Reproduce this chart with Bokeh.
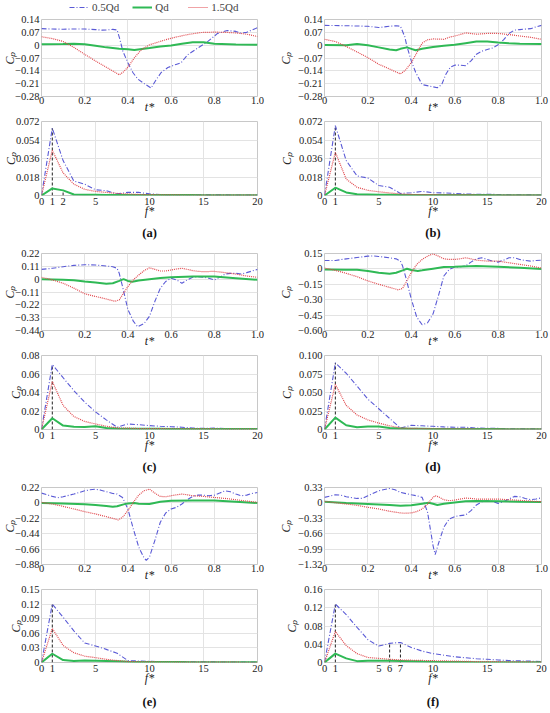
from bokeh.plotting import figure
from bokeh.models import Range1d, FixedTicker, Legend, LegendItem
from bokeh.layouts import gridplot, column
from bokeh.embed import file_html
from bokeh.resources import INLINE

# ---------------- data ----------------
SERIES = ["0.5Qd", "Qd", "1.5Qd"]
PANEL_LABELS = ["(a)", "(b)", "(c)", "(d)", "(e)", "(f)"]

# time-domain Cp (t* from 0 to 1)
TA_B = [0, 0.05, 0.1, 0.15, 0.2, 0.25, 0.28, 0.3, 0.33, 0.35, 0.361, 0.377, 0.4, 0.423, 0.446, 0.477, 0.507, 0.53, 0.554, 0.585, 0.623, 0.646, 0.677, 0.723, 0.769, 0.815, 0.86, 0.9, 0.92, 0.95, 1.0]
VA_B = [0.09, 0.088, 0.087, 0.088, 0.088, 0.085, 0.082, 0.083, 0.086, 0.083, 0.04, -0.034, -0.096, -0.149, -0.185, -0.211, -0.234, -0.19, -0.149, -0.122, -0.105, -0.096, -0.052, -0.016, 0.019, 0.064, 0.08, 0.075, 0.066, 0.07, 0.095]
TA_G = [0, 0.1, 0.15, 0.2, 0.25, 0.3, 0.36, 0.4, 0.43, 0.5, 0.55, 0.6, 0.65, 0.7, 0.75, 0.8, 0.9, 1.0]
VA_G = [0.005, 0.006, 0.008, 0.005, -0.003, -0.012, -0.02, -0.022, -0.026, -0.015, -0.007, -0.002, 0.008, 0.016, 0.016, 0.008, 0.003, 0.002]
TA_R = [0, 0.05, 0.1, 0.15, 0.2, 0.25, 0.3, 0.36, 0.38, 0.4, 0.43, 0.462, 0.5, 0.546, 0.585, 0.63, 0.677, 0.738, 0.8, 0.85, 0.9, 0.95, 1.0]
VA_R = [0.046, 0.036, 0.02, -0.012, -0.05, -0.086, -0.12, -0.162, -0.145, -0.12, -0.069, -0.025, 0.002, 0.019, 0.033, 0.046, 0.058, 0.069, 0.071, 0.07, 0.067, 0.06, 0.047]

TB_B = [0, 0.1, 0.2, 0.25, 0.3, 0.33, 0.35, 0.37, 0.38, 0.4, 0.42, 0.45, 0.5, 0.52, 0.54, 0.56, 0.58, 0.6, 0.625, 0.65, 0.675, 0.7, 0.725, 0.75, 0.775, 0.8, 0.825, 0.85, 0.875, 0.9, 0.95, 0.975, 1.0]
VB_B = [0.108, 0.106, 0.103, 0.096, 0.103, 0.106, 0.103, 0.046, -0.007, -0.086, -0.148, -0.215, -0.227, -0.232, -0.215, -0.157, -0.12, -0.109, -0.109, -0.112, -0.086, -0.05, -0.033, -0.024, -0.015, 0.002, 0.029, 0.064, 0.082, 0.085, 0.09, 0.1, 0.108]
TB_G = [0, 0.1, 0.15, 0.2, 0.25, 0.3, 0.33, 0.35, 0.38, 0.4, 0.42, 0.45, 0.5, 0.55, 0.6, 0.65, 0.7, 0.75, 0.8, 0.85, 0.9, 1.0]
VB_G = [0.001, 0.0, 0.006, -0.001, -0.012, -0.024, -0.028, -0.02, -0.012, -0.02, -0.028, -0.02, -0.01, -0.003, 0.002, 0.011, 0.02, 0.02, 0.015, 0.011, 0.008, 0.006]
TB_R = [0, 0.05, 0.1, 0.15, 0.2, 0.25, 0.3, 0.35, 0.375, 0.4, 0.425, 0.45, 0.475, 0.5, 0.55, 0.575, 0.6, 0.625, 0.65, 0.7, 0.75, 0.8, 0.85, 0.9, 0.95, 1.0]
VB_R = [0.032, 0.02, -0.007, -0.037, -0.068, -0.104, -0.13, -0.157, -0.134, -0.095, -0.042, 0.011, 0.029, 0.034, 0.032, 0.043, 0.05, 0.058, 0.067, 0.06, 0.064, 0.064, 0.058, 0.05, 0.043, 0.032]

TC_B = [0, 0.05, 0.1, 0.15, 0.2, 0.25, 0.3, 0.33, 0.35, 0.36, 0.375, 0.4, 0.425, 0.445, 0.475, 0.5, 0.525, 0.55, 0.575, 0.6, 0.625, 0.65, 0.675, 0.7, 0.725, 0.75, 0.775, 0.8, 0.825, 0.85, 0.875, 0.9, 0.925, 0.95, 0.975, 1.0]
VC_B = [0.084, 0.093, 0.107, 0.118, 0.124, 0.121, 0.113, 0.107, 0.093, 0.05, -0.063, -0.26, -0.36, -0.408, -0.38, -0.317, -0.19, -0.078, -0.02, 0.008, -0.006, -0.035, -0.006, 0.016, 0.022, 0.016, 0.008, -0.006, 0.016, 0.044, 0.05, 0.05, 0.044, 0.056, 0.07, 0.084]
TC_G = [0, 0.1, 0.15, 0.2, 0.25, 0.3, 0.33, 0.36, 0.38, 0.4, 0.42, 0.45, 0.5, 0.55, 0.6, 0.7, 0.8, 0.9, 1.0]
VC_G = [0.0, -0.006, -0.009, -0.02, -0.029, -0.04, -0.035, -0.015, 0.0, -0.015, -0.023, -0.012, 0.0, 0.01, 0.016, 0.022, 0.022, 0.008, -0.006]
TC_R = [0, 0.05, 0.1, 0.15, 0.2, 0.25, 0.3, 0.34, 0.36, 0.375, 0.4, 0.425, 0.45, 0.475, 0.5, 0.525, 0.55, 0.575, 0.6, 0.625, 0.65, 0.675, 0.7, 0.725, 0.75, 0.8, 0.85, 0.9, 0.95, 1.0]
VC_R = [0.016, -0.006, -0.035, -0.077, -0.125, -0.148, -0.17, -0.19, -0.177, -0.134, -0.063, -0.006, 0.036, 0.073, 0.098, 0.084, 0.07, 0.07, 0.079, 0.087, 0.093, 0.084, 0.073, 0.067, 0.064, 0.067, 0.056, 0.044, 0.027, 0.016]

TD_B = [0, 0.05, 0.1, 0.15, 0.2, 0.225, 0.25, 0.3, 0.33, 0.35, 0.36, 0.375, 0.4, 0.425, 0.45, 0.475, 0.5, 0.525, 0.55, 0.575, 0.6, 0.625, 0.65, 0.675, 0.7, 0.725, 0.75, 0.775, 0.8, 0.825, 0.85, 0.875, 0.9, 0.925, 0.95, 0.975, 1.0]
VD_B = [0.082, 0.082, 0.098, 0.111, 0.124, 0.127, 0.121, 0.108, 0.098, 0.076, 0.028, -0.085, -0.294, -0.47, -0.544, -0.525, -0.44, -0.262, -0.069, -0.005, 0.018, 0.021, 0.028, 0.066, 0.098, 0.108, 0.092, 0.076, 0.066, 0.085, 0.108, 0.108, 0.092, 0.082, 0.076, 0.082, 0.085]
TD_G = [0, 0.1, 0.15, 0.2, 0.25, 0.3, 0.33, 0.36, 0.38, 0.4, 0.43, 0.45, 0.5, 0.55, 0.6, 0.7, 0.8, 0.9, 1.0]
VD_G = [-0.005, -0.008, -0.008, -0.02, -0.037, -0.047, -0.037, -0.014, 0.002, -0.011, -0.02, -0.014, 0.002, 0.018, 0.021, 0.028, 0.021, 0.012, -0.001]
TD_R = [0, 0.05, 0.1, 0.15, 0.2, 0.25, 0.3, 0.34, 0.36, 0.375, 0.4, 0.425, 0.45, 0.475, 0.5, 0.525, 0.55, 0.575, 0.6, 0.625, 0.65, 0.675, 0.7, 0.75, 0.8, 0.85, 0.9, 0.95, 1.0]
VD_R = [0.008, -0.014, -0.043, -0.076, -0.117, -0.15, -0.18, -0.204, -0.19, -0.133, -0.037, 0.044, 0.092, 0.124, 0.147, 0.124, 0.098, 0.092, 0.092, 0.098, 0.108, 0.098, 0.085, 0.076, 0.076, 0.06, 0.044, 0.028, 0.008]

TE_B = [0, 0.05, 0.075, 0.1, 0.15, 0.2, 0.225, 0.25, 0.275, 0.3, 0.33, 0.35, 0.375, 0.4, 0.425, 0.45, 0.475, 0.485, 0.5, 0.525, 0.55, 0.575, 0.6, 0.625, 0.65, 0.675, 0.7, 0.725, 0.75, 0.775, 0.8, 0.825, 0.85, 0.875, 0.9, 0.925, 0.95, 0.975, 1.0]
VE_B = [0.14, 0.093, 0.074, 0.088, 0.126, 0.173, 0.187, 0.196, 0.182, 0.159, 0.135, 0.126, 0.078, -0.087, -0.37, -0.63, -0.787, -0.82, -0.772, -0.535, -0.276, -0.144, -0.087, -0.063, -0.016, 0.045, 0.093, 0.111, 0.111, 0.102, 0.111, 0.14, 0.173, 0.159, 0.126, 0.102, 0.111, 0.135, 0.149]
TE_G = [0, 0.1, 0.2, 0.25, 0.3, 0.33, 0.35, 0.38, 0.4, 0.43, 0.45, 0.5, 0.55, 0.6, 0.7, 0.8, 0.9, 1.0]
VE_G = [-0.002, -0.007, -0.021, -0.03, -0.044, -0.054, -0.049, -0.021, -0.007, -0.002, -0.011, -0.016, 0.017, 0.031, 0.036, 0.036, 0.017, -0.002]
TE_R = [0, 0.05, 0.1, 0.15, 0.2, 0.25, 0.3, 0.355, 0.375, 0.4, 0.425, 0.45, 0.475, 0.5, 0.525, 0.55, 0.575, 0.6, 0.625, 0.65, 0.675, 0.7, 0.75, 0.8, 0.85, 0.9, 0.95, 1.0]
VE_R = [0.008, -0.016, -0.049, -0.087, -0.125, -0.158, -0.196, -0.243, -0.205, -0.11, 0.008, 0.111, 0.173, 0.196, 0.14, 0.093, 0.088, 0.102, 0.116, 0.126, 0.116, 0.102, 0.093, 0.078, 0.064, 0.045, 0.026, 0.008]

TF_B = [0, 0.05, 0.075, 0.1, 0.15, 0.175, 0.2, 0.25, 0.3, 0.325, 0.35, 0.4, 0.425, 0.45, 0.475, 0.5, 0.51, 0.525, 0.55, 0.575, 0.6, 0.625, 0.65, 0.675, 0.7, 0.725, 0.75, 0.775, 0.8, 0.825, 0.85, 0.875, 0.9, 0.925, 0.95, 0.975, 1.0]
VF_B = [0.118, 0.174, 0.167, 0.132, 0.096, 0.096, 0.153, 0.26, 0.309, 0.28, 0.224, 0.174, 0.153, 0.118, -0.2, -0.91, -1.11, -0.875, -0.52, -0.343, -0.293, -0.272, -0.258, -0.166, -0.045, 0.025, 0.047, 0.033, -0.01, 0.025, 0.082, 0.139, 0.132, 0.096, 0.068, 0.082, 0.11]
TF_G = [0, 0.1, 0.2, 0.3, 0.35, 0.4, 0.45, 0.48, 0.5, 0.52, 0.55, 0.6, 0.65, 0.7, 0.8, 0.9, 1.0]
VF_G = [0.025, -0.003, -0.024, -0.045, -0.06, -0.052, -0.017, 0.004, -0.017, -0.045, -0.017, 0.011, 0.033, 0.04, 0.033, 0.025, 0.018]
TF_R = [0, 0.05, 0.1, 0.15, 0.2, 0.25, 0.3, 0.35, 0.37, 0.4, 0.425, 0.45, 0.475, 0.5, 0.51, 0.525, 0.55, 0.575, 0.6, 0.625, 0.65, 0.675, 0.7, 0.75, 0.8, 0.85, 0.9, 0.95, 1.0]
VF_R = [0.033, 0.004, -0.024, -0.052, -0.095, -0.13, -0.18, -0.215, -0.222, -0.215, -0.187, -0.13, -0.024, 0.118, 0.153, 0.132, 0.068, 0.047, 0.061, 0.082, 0.103, 0.096, 0.082, 0.082, 0.082, 0.068, 0.054, 0.04, 0.025]

# frequency-domain Cp amplitude (f* = 0..20)
FREQ = list(range(21))
AA_B = [0, 0.0655, 0.034, 0.014, 0.011, 0.0056, 0.0047, 0.0016, 0.003, 0.003, 0.0016, 0.001, 0.0008, 0.0008, 0.0007, 0.0007, 0.0006, 0.0006, 0.0005, 0.0005, 0.0005]
AA_G = [0, 0.0069, 0.005, 0.001, 0.0008, 0.0007, 0.0006, 0.0006, 0.0005, 0.0005, 0.0005, 0.0004, 0.0004, 0.0004, 0.0004, 0.0003, 0.0003, 0.0003, 0.0003, 0.0003, 0.0003]
AA_R = [0, 0.044, 0.022, 0.011, 0.006, 0.004, 0.003, 0.002, 0.0015, 0.001, 0.0008, 0.0007, 0.0006, 0.0005, 0.0005, 0.0004, 0.0004, 0.0004, 0.0003, 0.0003, 0.0003]
AB_B = [0, 0.068, 0.034, 0.019, 0.017, 0.0097, 0.008, 0.002, 0.0027, 0.004, 0.0027, 0.0025, 0.002, 0.0015, 0.0012, 0.0012, 0.001, 0.0008, 0.0007, 0.0006, 0.0005]
AB_G = [0, 0.0076, 0.003, 0.0012, 0.001, 0.0008, 0.0007, 0.0006, 0.0006, 0.0005, 0.0005, 0.0005, 0.0004, 0.0004, 0.0004, 0.0004, 0.0003, 0.0003, 0.0003, 0.0003, 0.0003]
AB_R = [0, 0.042, 0.016, 0.008, 0.005, 0.0036, 0.0025, 0.0015, 0.001, 0.0009, 0.0008, 0.0007, 0.0006, 0.0006, 0.0005, 0.0005, 0.0005, 0.0004, 0.0004, 0.0004, 0.0004]
AC_B = [0, 0.0703, 0.056, 0.042, 0.0296, 0.019, 0.0104, 0.0024, 0.006, 0.0052, 0.0042, 0.0035, 0.003, 0.0025, 0.0015, 0.0012, 0.0015, 0.001, 0.001, 0.0008, 0.0006]
AC_G = [0, 0.0122, 0.0042, 0.003, 0.0028, 0.0035, 0.0017, 0.001, 0.0008, 0.0008, 0.0007, 0.0007, 0.0006, 0.0006, 0.0006, 0.0005, 0.0005, 0.0005, 0.0005, 0.0005, 0.0005]
AC_R = [0, 0.052, 0.026, 0.014, 0.0087, 0.006, 0.0035, 0.0017, 0.0015, 0.001, 0.001, 0.0009, 0.0008, 0.0008, 0.0007, 0.0006, 0.0006, 0.0005, 0.0005, 0.0005, 0.0005]
AD_B = [0, 0.09, 0.076, 0.0587, 0.041, 0.028, 0.015, 0.002, 0.0057, 0.005, 0.0043, 0.0035, 0.003, 0.003, 0.002, 0.0015, 0.0015, 0.001, 0.001, 0.0008, 0.0008]
AD_G = [0, 0.016, 0.0057, 0.003, 0.004, 0.004, 0.002, 0.0015, 0.001, 0.0009, 0.0008, 0.0008, 0.0007, 0.0007, 0.0006, 0.0006, 0.0006, 0.0005, 0.0005, 0.0005, 0.0005]
AD_R = [0, 0.061, 0.0326, 0.0196, 0.013, 0.0087, 0.005, 0.002, 0.0015, 0.0013, 0.001, 0.0009, 0.0008, 0.0008, 0.0007, 0.0007, 0.0006, 0.0006, 0.0005, 0.0005, 0.0005]
AE_B = [0, 0.12, 0.093, 0.065, 0.04, 0.034, 0.027, 0.019, 0.004, 0.003, 0.0025, 0.002, 0.002, 0.0018, 0.0015, 0.0013, 0.0012, 0.001, 0.001, 0.0009, 0.0008]
AE_G = [0, 0.018, 0.005, 0.003, 0.004, 0.0035, 0.003, 0.0025, 0.0015, 0.001, 0.001, 0.0009, 0.0008, 0.0008, 0.0007, 0.0007, 0.0007, 0.0006, 0.0006, 0.0006, 0.0006]
AE_R = [0, 0.07, 0.035, 0.02, 0.013, 0.01, 0.0065, 0.004, 0.002, 0.0015, 0.0012, 0.001, 0.001, 0.0009, 0.0008, 0.0007, 0.0007, 0.0006, 0.0006, 0.0005, 0.0005]
AF_B = [0, 0.128, 0.105, 0.077, 0.05, 0.036, 0.042, 0.044, 0.033, 0.025, 0.0195, 0.016, 0.0125, 0.0104, 0.0083, 0.007, 0.0056, 0.0042, 0.0035, 0.003, 0.002]
AF_G = [0, 0.0195, 0.009, 0.003, 0.004, 0.004, 0.004, 0.0035, 0.003, 0.002, 0.0015, 0.0012, 0.001, 0.001, 0.0008, 0.0008, 0.0007, 0.0006, 0.0006, 0.0005, 0.0005]
AF_R = [0, 0.068, 0.037, 0.0195, 0.011, 0.009, 0.007, 0.0056, 0.005, 0.0045, 0.004, 0.0035, 0.003, 0.0025, 0.002, 0.002, 0.0018, 0.0015, 0.0013, 0.0012, 0.001]

# axis ticks
T_TICKS = [0, 0.2, 0.4, 0.6, 0.8, 1.0]
T_LABELS = ["0", "0.2", "0.4", "0.6", "0.8", "1.0"]
YT_A = [0.14, 0.07, 0, -0.07, -0.14, -0.21, -0.28]
YL_A = ["0.14", "0.07", "0", "\u22120.07", "\u22120.14", "\u22120.21", "\u22120.28"]
YT_C = [0.22, 0.11, 0, -0.11, -0.22, -0.33, -0.44]
YL_C = ["0.22", "0.11", "0", "\u22120.11", "\u22120.22", "\u22120.33", "\u22120.44"]
YT_D = [0.15, 0, -0.15, -0.30, -0.45, -0.60]
YL_D = ["0.15", "0", "\u22120.15", "\u22120.30", "\u22120.45", "\u22120.60"]
YT_E = [0.22, 0, -0.22, -0.44, -0.66, -0.88]
YL_E = ["0.22", "0", "\u22120.22", "\u22120.44", "\u22120.66", "\u22120.88"]
YT_F = [0.33, 0, -0.33, -0.66, -0.99, -1.32]
YL_F = ["0.33", "0", "\u22120.33", "\u22120.66", "\u22120.99", "\u22121.32"]

FY_AB = [0, 0.018, 0.036, 0.054, 0.072]
FL_AB = ["0", "0.018", "0.036", "0.054", "0.072"]
FY_C = [0, 0.02, 0.04, 0.06, 0.08]
FL_C = ["0", "0.02", "0.04", "0.06", "0.08"]
FY_D = [0, 0.025, 0.05, 0.075, 0.1]
FL_D = ["0", "0.025", "0.050", "0.075", "0.100"]
FY_E = [0, 0.03, 0.06, 0.09, 0.12, 0.15]
FL_E = ["0", "0.03", "0.06", "0.09", "0.12", "0.15"]
FY_F = [0, 0.04, 0.08, 0.12, 0.16]
FL_F = ["0", "0.04", "0.08", "0.12", "0.16"]

FX_A = [0, 1, 2, 5, 10, 15, 20]
FX_B = [0, 1, 5, 10, 15, 20]
FX_F = [0, 1, 5, 6, 7, 10, 15, 20]

# dominant-frequency markers: (f*, series index whose amplitude the marker reaches)
MARK_A = [(1, 0), (2, 1)]
MARK_B = [(1, 0)]
MARK_F = [(1, 0), (6, 0), (7, 0)]

# ---------------- styles ----------------
FONT = "Liberation Serif"
COLORS = ["#5a5ad6", "#2fb955", "#e0474c"]
WIDTHS = [1.1, 2.0, 1.2]
DASHES = ["5 2 1 2", "solid", "1 1"]
GRID = "#e3e3e3"

PANELS = [
    dict(t=[(TA_B, VA_B), (TA_G, VA_G), (TA_R, VA_R)], yr=(-0.28, 0.14), yt=YT_A, yl=YL_A,
         a=[AA_B, AA_G, AA_R], fy=FY_AB, fl=FL_AB, fx=FX_A, marks=MARK_A),
    dict(t=[(TB_B, VB_B), (TB_G, VB_G), (TB_R, VB_R)], yr=(-0.28, 0.14), yt=YT_A, yl=YL_A,
         a=[AB_B, AB_G, AB_R], fy=FY_AB, fl=FL_AB, fx=FX_B, marks=MARK_B),
    dict(t=[(TC_B, VC_B), (TC_G, VC_G), (TC_R, VC_R)], yr=(-0.44, 0.22), yt=YT_C, yl=YL_C,
         a=[AC_B, AC_G, AC_R], fy=FY_C, fl=FL_C, fx=FX_B, marks=MARK_B),
    dict(t=[(TD_B, VD_B), (TD_G, VD_G), (TD_R, VD_R)], yr=(-0.60, 0.15), yt=YT_D, yl=YL_D,
         a=[AD_B, AD_G, AD_R], fy=FY_D, fl=FL_D, fx=FX_B, marks=MARK_B),
    dict(t=[(TE_B, VE_B), (TE_G, VE_G), (TE_R, VE_R)], yr=(-0.88, 0.22), yt=YT_E, yl=YL_E,
         a=[AE_B, AE_G, AE_R], fy=FY_E, fl=FL_E, fx=FX_B, marks=MARK_B),
    dict(t=[(TF_B, VF_B), (TF_G, VF_G), (TF_R, VF_R)], yr=(-1.32, 0.33), yt=YT_F, yl=YL_F,
         a=[AF_B, AF_G, AF_R], fy=FY_F, fl=FL_F, fx=FX_F, marks=MARK_F),
]


def style(p, xt, xl, yt, yl, xgrid, xlabel, x_lstand, xl_standoff, yl_standoff):
    p.xaxis.ticker = FixedTicker(ticks=xt)
    p.xaxis.major_label_overrides = dict(zip(xt, xl))
    p.yaxis.ticker = FixedTicker(ticks=yt)
    p.yaxis.major_label_overrides = dict(zip(yt, yl))
    p.xgrid.ticker = FixedTicker(ticks=xgrid)
    p.ygrid.ticker = FixedTicker(ticks=yt)
    p.grid.grid_line_color = GRID
    p.grid.grid_line_width = 1
    p.outline_line_color = "#c8c8c8"
    for ax in (p.xaxis, p.yaxis):
        ax.major_tick_out = 0
        ax.major_tick_in = 0
        ax.minor_tick_out = 0
        ax.minor_tick_in = 0
        ax.major_tick_line_color = None
        ax.minor_tick_line_color = None
        ax.axis_line_color = None
        ax.major_label_text_font = FONT
        ax.major_label_text_font_size = "10.5px"
        ax.major_label_text_color = "#222222"
        ax.axis_label_text_font = FONT
        ax.axis_label_text_font_size = "12px"
        ax.axis_label_text_font_style = "italic"
        ax.axis_label_text_color = "#222222"
    p.xaxis.major_label_standoff = x_lstand
    p.yaxis.major_label_standoff = 2
    p.xaxis.axis_label = xlabel
    p.xaxis.axis_label_standoff = xl_standoff
    p.yaxis.axis_label = "C\u209a"
    p.yaxis.axis_label_standoff = yl_standoff


# legend strip above the panels (its lines sit outside the visible ranges; only the key shows)
leg_fig = figure(width=550, height=13, x_axis_location=None, y_axis_location=None,
                 x_range=Range1d(5, 6), y_range=Range1d(5, 6),
                 output_backend="svg", toolbar_location=None, min_border=0,
                 outline_line_color=None)
leg_fig.grid.visible = False
leg_src = [(TA_B, VA_B), (TA_G, VA_G), (TA_R, VA_R)]
leg_rends = [leg_fig.line(leg_src[k][0], leg_src[k][1], line_color=COLORS[k],
                          line_width=WIDTHS[k], line_dash=DASHES[k]) for k in range(3)]
leg = Legend(items=[LegendItem(label=SERIES[k], renderers=[leg_rends[k]]) for k in range(3)],
             orientation="horizontal", location=(69, 0),
             label_text_font=FONT, label_text_font_size="11px",
             glyph_width=20, glyph_height=10, label_height=10, label_standoff=3,
             spacing=13, padding=0, margin=0, border_line_color=None,
             background_fill_alpha=0)
leg_fig.add_layout(leg, "center")

figs = []
for i, pn in enumerate(PANELS):
    left = (i % 2 == 0)
    row = i // 2
    bl = 41 if left else 49
    br = 18 if left else 9
    ysd = -5 if left else 2
    ttop = 6 if row == 0 else 11

    pt = figure(width=275, height=ttop + 78 + 19, x_range=Range1d(0, 1), y_range=Range1d(*pn["yr"]),
                output_backend="svg", toolbar_location=None,
                min_border_left=bl, min_border_right=br, min_border_top=ttop, min_border_bottom=19)
    style(pt, T_TICKS, T_LABELS, pn["yt"], pn["yl"], [0.2, 0.4, 0.6, 0.8], "t*", 0, -7, ysd)
    for k, (tt, vv) in enumerate(pn["t"]):
        pt.line(tt, vv, line_color=COLORS[k], line_width=WIDTHS[k], line_dash=DASHES[k])

    fy = pn["fy"]
    fbot = 50 if row == 2 else 47
    pf = figure(width=275, height=5 + 74 + fbot, x_range=Range1d(0, 20), y_range=Range1d(0, fy[-1]),
                output_backend="svg", toolbar_location=None,
                title=PANEL_LABELS[i], title_location="below",
                min_border_left=bl, min_border_right=br, min_border_top=5, min_border_bottom=fbot)
    style(pf, pn["fx"], [str(v) for v in pn["fx"]], fy, pn["fl"], [5, 10, 15], "f*", 2, -4, ysd)
    pf.title.align = "center"
    pf.title.text_font = FONT
    pf.title.text_font_size = "12.5px"
    pf.title.text_font_style = "bold"
    pf.title.text_color = "#111111"
    pf.title.standoff = 10 if row == 2 else 6
    mx = [m[0] for m in pn["marks"]]
    my = [pn["a"][m[1]][m[0]] for m in pn["marks"]]
    pf.segment(x0=mx, y0=[0] * len(mx), x1=mx, y1=my, line_color="#222222",
               line_width=1, line_dash="3 2")
    for k, vv in enumerate(pn["a"]):
        pf.line(FREQ, vv, line_color=COLORS[k], line_width=WIDTHS[k], line_dash=DASHES[k])
    figs.append((pt, pf))

rows = []
for r in range(3):
    a, b = figs[2 * r], figs[2 * r + 1]
    rows.append([a[0], b[0]])
    rows.append([a[1], b[1]])

grid = gridplot(rows, toolbar_location=None)
page = column(leg_fig, grid)

open("out.html", "w").write(file_html(page, INLINE))
